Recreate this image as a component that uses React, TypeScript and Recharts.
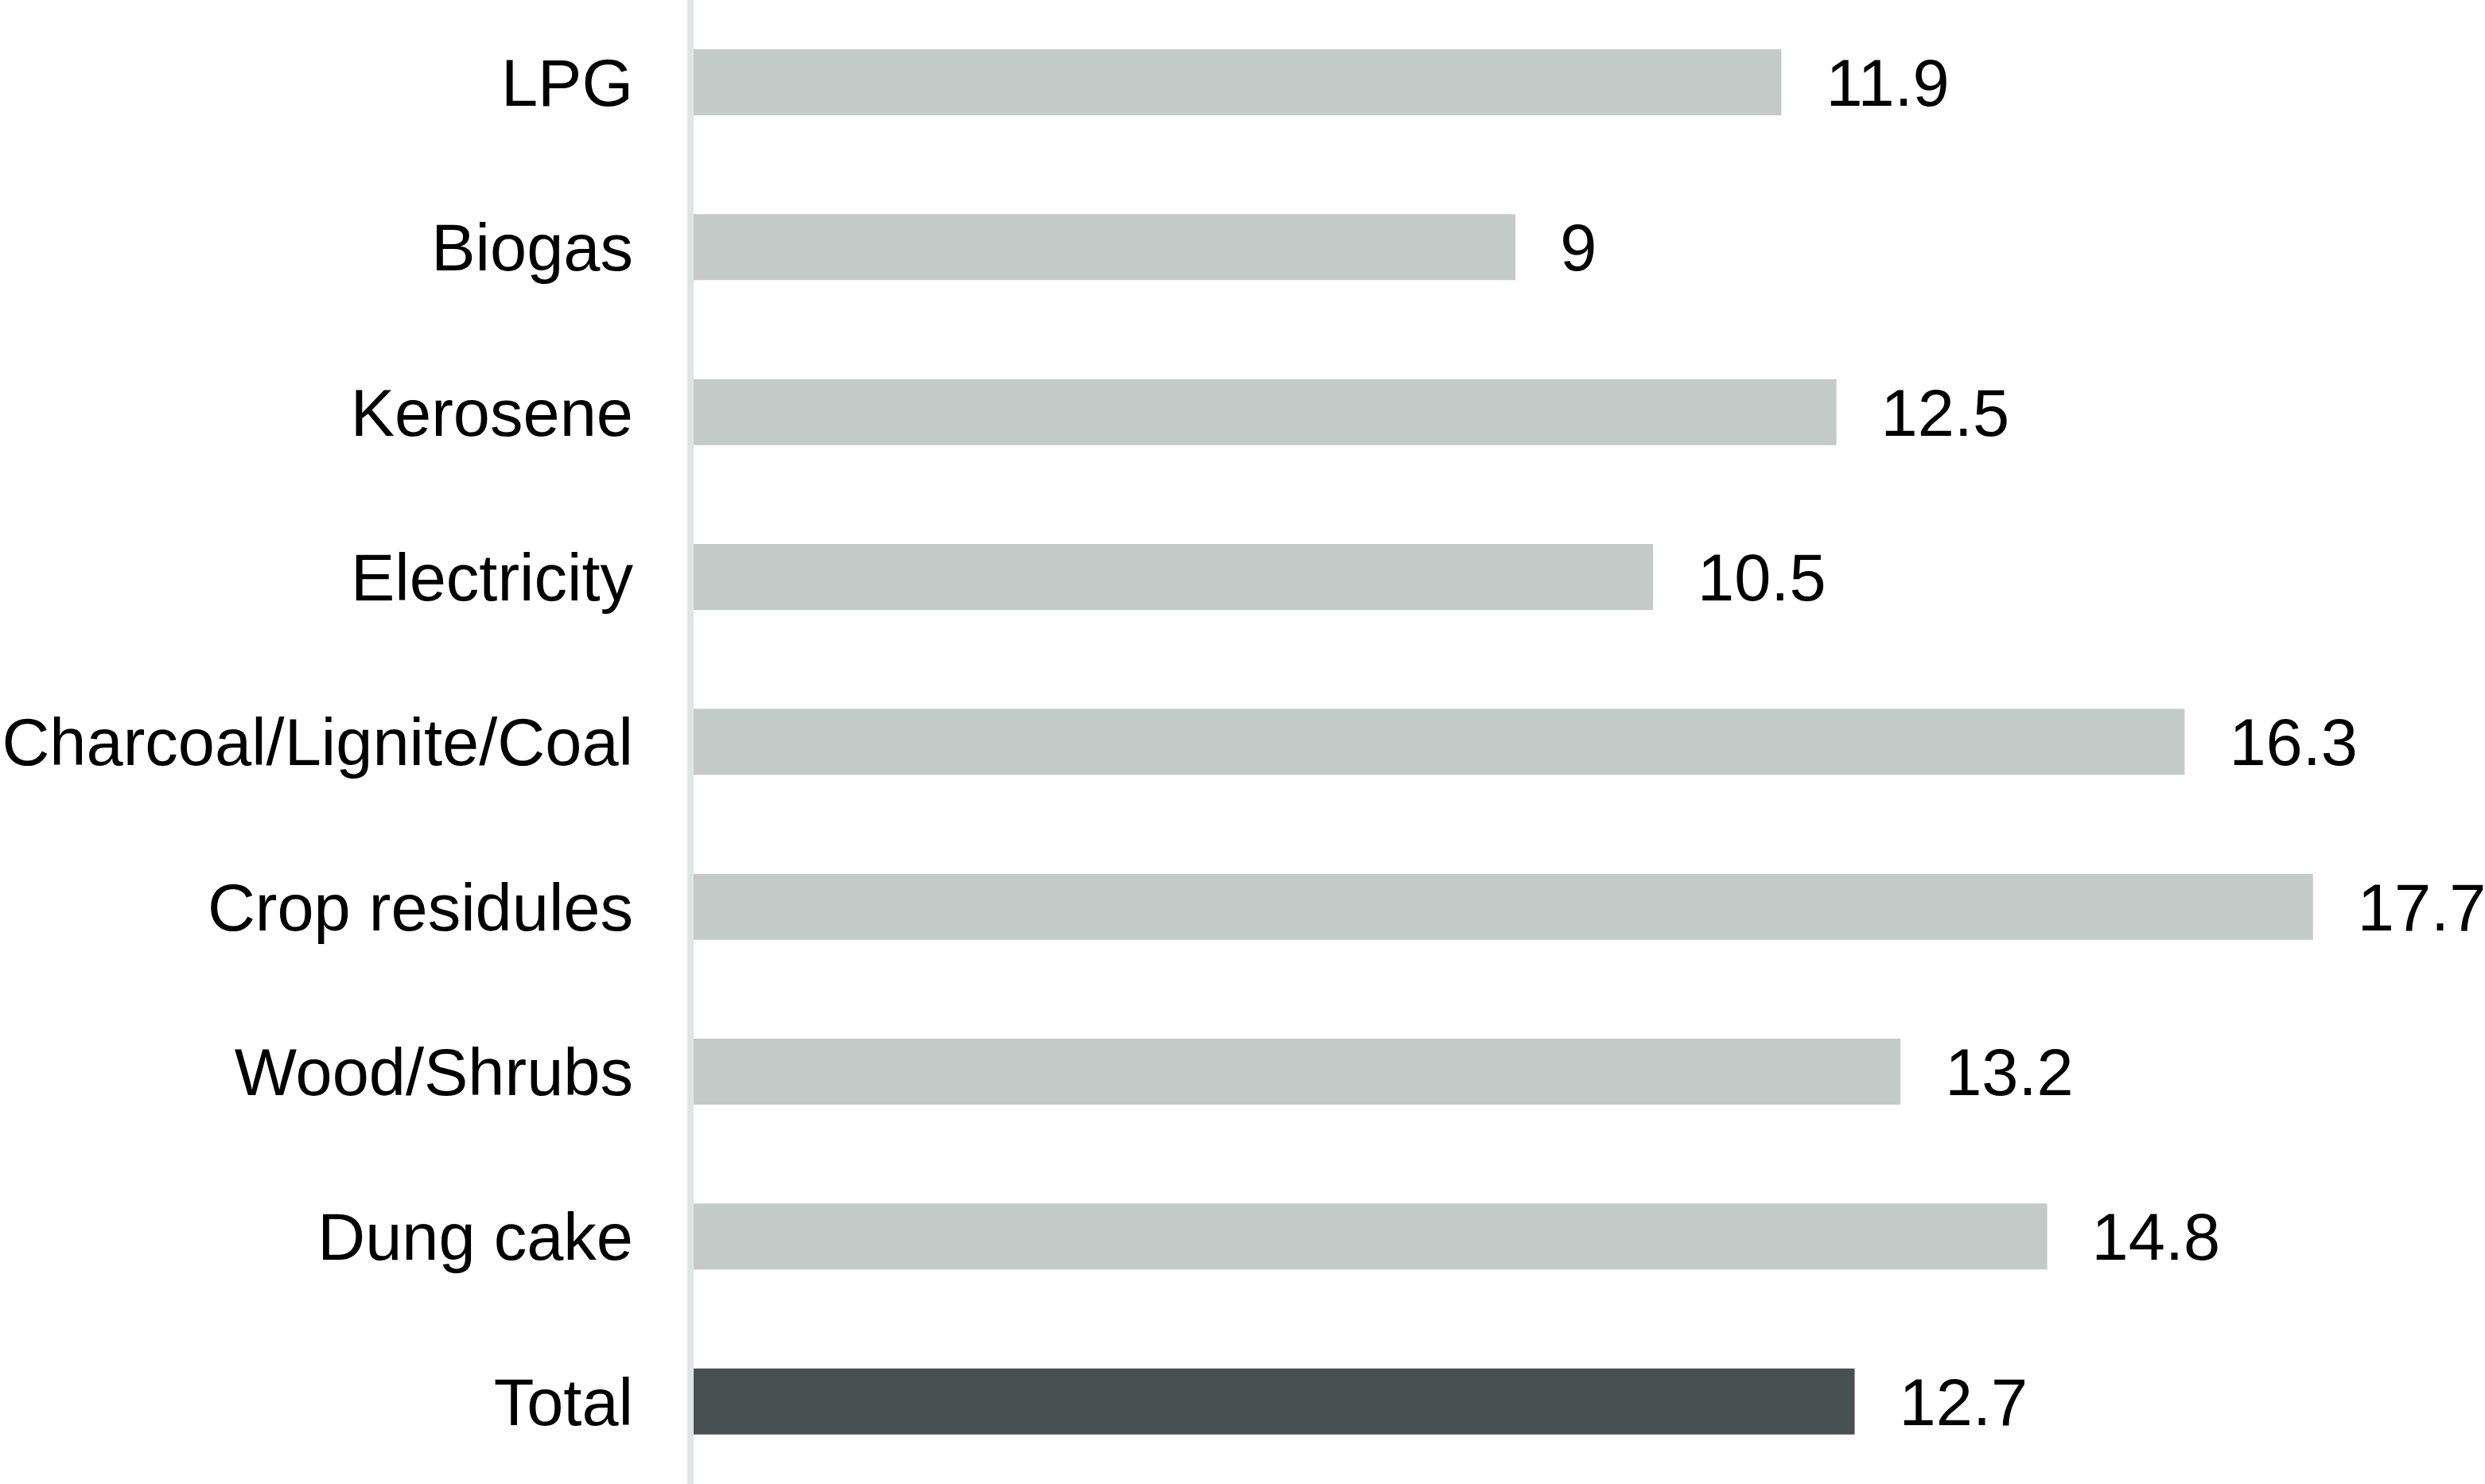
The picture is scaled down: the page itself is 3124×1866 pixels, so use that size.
import { Bar, BarChart, Cell, LabelList, XAxis, YAxis } from "recharts";

const fuels = [
  "LPG",
  "Biogas",
  "Kerosene",
  "Electricity",
  "Charcoal/Lignite/Coal",
  "Crop residules",
  "Wood/Shrubs",
  "Dung cake",
  "Total",
];
const shares = [11.9, 9, 12.5, 10.5, 16.3, 17.7, 13.2, 14.8, 12.7];

const data = fuels.map((fuel, i) => ({ fuel, value: shares[i] }));

const FONT = '"Liberation Sans", Arial, Helvetica, sans-serif';

export default function App() {
  return (
    <div style={{ position: "absolute", left: 0, top: 0, width: 3124, height: 1866, background: "#fff" }}>
      <BarChart
        width={3124}
        height={1866}
        data={data}
        layout="vertical"
        margin={{ top: 0, right: 71, bottom: 0, left: 0 }}
      >
        <XAxis type="number" domain={[0, 18.96]} hide />
        <YAxis
          type="category"
          dataKey="fuel"
          width={868}
          axisLine={{ stroke: "#dfe5e4", strokeWidth: 8 }}
          tickLine={false}
          tickSize={0}
          tickMargin={72}
          tick={{ fill: "#000", fontSize: 83, fontFamily: FONT }}
          interval={0}
        />
        <Bar dataKey="value" barSize={83} isAnimationActive={false}>
          {data.map((d) => (
            <Cell key={d.fuel} fill={d.fuel === "Total" ? "#485152" : "#c3cbc8"} />
          ))}
          <LabelList
            dataKey="value"
            position="right"
            offset={56}
            style={{ fill: "#000", fontSize: 83, fontFamily: FONT }}
          />
        </Bar>
      </BarChart>
    </div>
  );
}
